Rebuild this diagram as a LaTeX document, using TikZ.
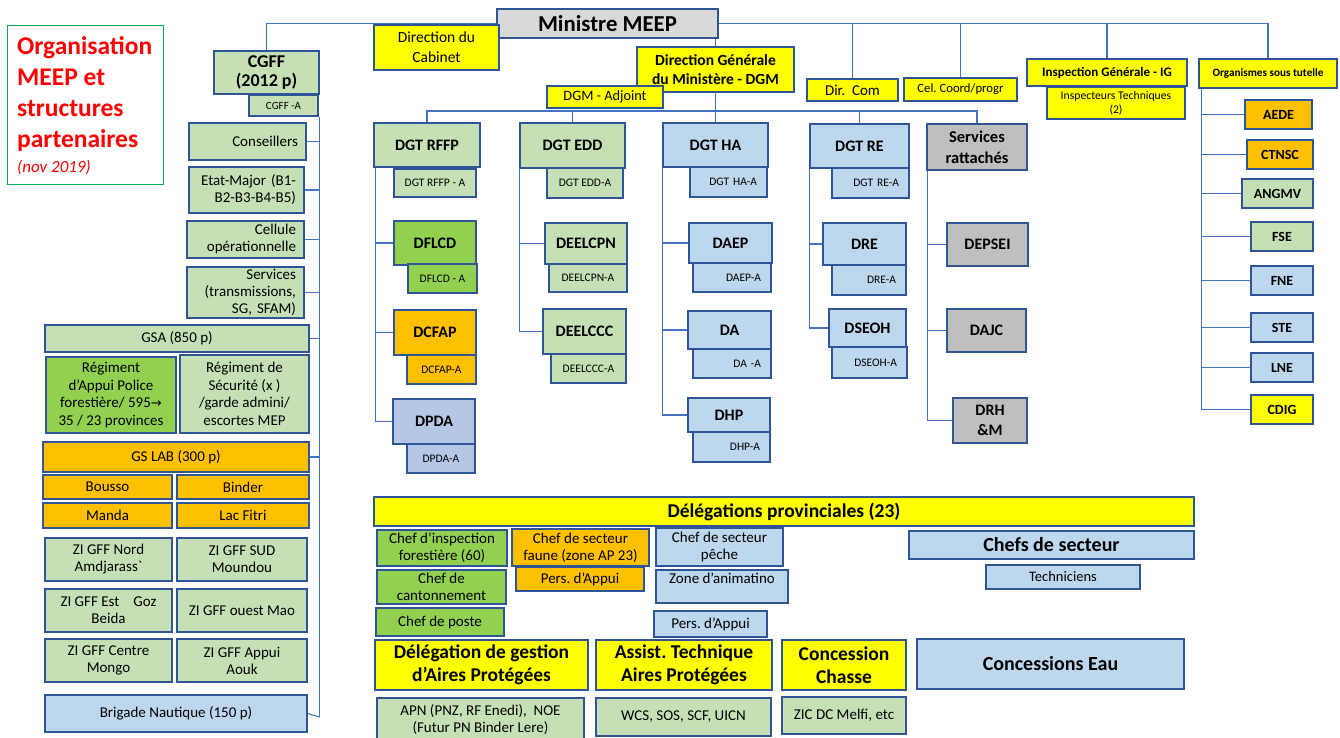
\documentclass[tikz,border=0pt]{standalone}
\usepackage{fontspec}
\setmainfont{Carlito}
\newfontfamily\symfont{DejaVu Sans}

\definecolor{lgreen}{HTML}{C5E0B4}
\definecolor{bgreen}{HTML}{92D050}
\definecolor{orng}{HTML}{FFC000}
\definecolor{yell}{HTML}{FFFF00}
\definecolor{lblue}{HTML}{BDD7EE}
\definecolor{pblue}{HTML}{B4C7E7}
\definecolor{grayA}{HTML}{BFBFBF}
\definecolor{grayB}{HTML}{D9D9D9}
\definecolor{edge}{HTML}{2F5597}
\definecolor{wire}{HTML}{4472C4}
\definecolor{titlegreen}{HTML}{00B050}
\definecolor{titlered}{HTML}{FF0000}

\pgfdeclarelayer{wires}
\pgfsetlayers{wires,main}

\newcommand\fsz[2]{\fontsize{#1}{#2}\selectfont}

% box from (x1,y1) to (x2,y2), y measured downwards
\newcommand\bx[7]{%
  \pgfmathsetmacro\bw{#4-#2}\pgfmathsetmacro\bh{#5-#3}%
  \pgfmathsetmacro\btw{#4-#2-20}\pgfmathsetmacro\bltw{#4-#2-16}%
  \pgfmathsetmacro\bcx{(#2+#4)/2}\pgfmathsetmacro\bcy{(#3+#5)/2}%
  \node[box,minimum width=\bw pt,minimum height=\bh pt,#6] (#1) at (\bcx,\bcy) {#7};}

\tikzset{
  box/.style={draw=edge, line width=1.4pt, inner sep=1pt, align=center,
    text=black, font=\fsz{15}{17}},
  conn/.style={draw=wire, line width=1.1pt},
  hd/.style={font=\bfseries\fsz{16}{18}},
  sub/.style={font=\fsz{11.5}{13}},
  big/.style={font=\bfseries\fsz{19.5}{23}},
  rtext/.style={align=right, text width=\btw pt, inner xsep=10pt},
  ltext/.style={align=right, text width=\bltw pt, inner xsep=8pt},
  flg/.style={fill=lgreen}, fbg/.style={fill=bgreen}, forng/.style={fill=orng},
  fye/.style={fill=yell}, flb/.style={fill=lblue}, fpb/.style={fill=pblue},
  fga/.style={fill=grayA}, fgb/.style={fill=grayB},
}

\begin{document}
\frenchspacing
\begin{tikzpicture}[x=1pt,y=-1pt]
\useasboundingbox (0,0) rectangle (1340,738);

% heading
\node[draw=titlegreen, line width=1pt, minimum width=156pt, minimum height=159pt,
  anchor=north west] (ttl) at (7,25) {};
\node[anchor=north west, inner sep=0pt, align=left, text=titlered,
  font=\bfseries\fsz{25.5}{31}] (ttltext) at (17,36.5)
  {Organisation\\MEEP et\\structures\\partenaires};
\node[anchor=base west, inner sep=0pt, text=titlered,
  font=\itshape\fsz{17}{20}] (ttldate) at (17,172) {(nov 2019)};

% top level
\bx{min}{497}{9}{718}{38}{fgb,font=\bfseries\fsz{22.8}{25}}{Ministre MEEP}
\bx{cab}{374}{25}{499}{70}{fye,font=\fsz{15.5}{20}}{Direction du\\Cabinet}
\bx{dgm}{637}{47}{794}{92}{fye,font=\bfseries\fsz{15.5}{18.5}}{Direction Générale\\du Ministère - DGM}
\bx{dgma}{547}{86}{663}{108}{fye,font=\fsz{14.3}{16}}{DGM - Adjoint}
\bx{dircom}{807}{79}{898}{101}{fye,font=\fsz{15}{17}}{Dir.\ \ Com}
\bx{cel}{904}{78}{1017}{101}{fye,font=\fsz{12.7}{15}}{Cel. Coord/progr}
\bx{ig}{1027}{59}{1187}{86}{fye,font=\bfseries\fsz{13}{15}}{Inspection Générale - IG}
\bx{insp}{1047}{87}{1185}{119}{fye,font=\fsz{11.7}{14}}{Inspecteurs Techniques\\(2)}
\bx{org}{1199}{59}{1337}{88}{fye,font=\bfseries\fsz{11.2}{13}}{Organismes sous tutelle}

% organismes
\tikzset{oh/.style={font=\bfseries\fsz{14}{16}}}
\bx{aede}{1245}{100}{1312}{129}{forng,oh}{AEDE}
\bx{ctnsc}{1247}{140}{1313}{169}{forng,oh}{CTNSC}
\bx{angmv}{1242}{179}{1313}{208}{flg,oh}{ANGMV}
\bx{fse}{1251}{222}{1313}{251}{flg,oh}{FSE}
\bx{fne}{1251}{266}{1313}{295}{flb,oh}{FNE}
\bx{ste}{1251}{313}{1313}{342}{flb,oh}{STE}
\bx{lne}{1251}{353}{1313}{382}{flb,oh}{LNE}
\bx{cdig}{1251}{395}{1313}{424}{fye,oh}{CDIG}

% CGFF column
\bx{cgff}{214}{51}{319}{94}{flg,font=\bfseries\fsz{18}{19.5}}{CGFF\\(2012 p)}
\bx{cgffa}{249}{95}{318}{116}{flg,font=\fsz{11}{12}}{CGFF -A}
\bx{cons}{189}{123}{306}{160}{flg,ltext}{Conseillers}
\bx{etat}{189}{167}{304}{213}{flg,ltext}{Etat-Major~(B1-\\B2-B3-B4-B5)}
\bx{cell}{187}{221}{304}{258}{flg,ltext}{Cellule\\opérationnelle}
\bx{serv}{187}{267}{304}{318}{flg,ltext}{Services\\(transmissions,\\SG,~SFAM)}
\bx{gsa}{45}{325}{309}{352}{flg}{GSA (850 p)}
\bx{rap}{46}{357}{176}{433}{fbg,font=\fsz{15}{17.5}}{Régiment\\d’Appui Police\\forestière/ 595{\symfont\fsz{13}{17.5}→}\\35 / 23 provinces}
\bx{rsec}{180}{355}{309}{433}{flg,font=\fsz{15}{17.5}}{Régiment de\\Sécurité (x )\\/garde admini/\\escortes MEP}
\bx{gslab}{43}{442}{309}{472}{forng}{GS LAB (300 p)}
\bx{bousso}{43}{475}{172}{499}{forng}{Bousso}
\bx{binder}{177}{475}{309}{499}{forng}{Binder}
\bx{manda}{43}{503}{172}{528}{forng}{Manda}
\bx{lacfitri}{177}{503}{309}{528}{forng}{Lac Fitri}
\bx{zinord}{45}{538}{172}{581}{flg}{ZI GFF Nord\\Amdjarass\textasciigrave}
\bx{zisud}{177}{538}{307}{581}{flg}{ZI GFF SUD\\Moundou}
\bx{ziest}{45}{589}{172}{632}{flg}{ZI GFF Est\hspace{14pt}Goz\\Beida}
\bx{zimao}{177}{589}{307}{632}{flg}{ZI GFF ouest Mao}
\bx{zicentre}{45}{639}{172}{682}{flg}{ZI GFF Centre\\Mongo}
\bx{ziaouk}{177}{639}{307}{682}{flg}{ZI GFF Appui\\Aouk}
\bx{brig}{45}{695}{307}{732}{flb}{Brigade Nautique (150 p)}

% DGT RFFP column
\bx{dgtrffp}{374}{123}{480}{167}{flg,hd}{DGT RFFP}
\bx{dgtrffpa}{394}{169}{476}{197}{flg,sub}{DGT RFFP - A}
\bx{dflcd}{394}{221}{476}{265}{fbg,hd}{DFLCD}
\bx{dflcda}{408}{264}{477}{293}{fbg,sub}{DFLCD - A}
\bx{dcfap}{394}{310}{476}{355}{forng,hd}{DCFAP}
\bx{dcfapa}{407}{355}{476}{384}{forng,sub}{DCFAP-A}
\bx{dpda}{393}{399}{475}{444}{fpb,hd}{DPDA}
\bx{dpdaa}{407}{444}{475}{473}{fpb,sub}{DPDA-A}

% DGT EDD column
\bx{dgtedd}{520}{123}{625}{168}{flg,hd}{DGT EDD}
\bx{dgtedda}{547}{168}{623}{198}{flg,sub}{DGT EDD-A}
\bx{deelcpn}{545}{223}{627}{264}{flg,hd}{DEELCPN}
\bx{deelcpna}{549}{264}{627}{292}{flg,sub}{DEELCPN-A}
\bx{deelccc}{543}{309}{626}{354}{flg,hd}{DEELCCC}
\bx{deelccca}{551}{354}{626}{383}{flg,sub}{DEELCCC-A}

% DGT HA column
\bx{dgtha}{663}{123}{768}{167}{flb,hd}{DGT HA}
\bx{dgthaa}{690}{167}{767}{197}{flb,sub,rtext}{DGT HA-A}
\bx{daep}{689}{223}{772}{263}{flb,hd}{DAEP}
\bx{daepa}{693}{263}{771}{292}{flb,sub,rtext}{DAEP-A}
\bx{da}{688}{311}{771}{349}{flb,hd}{DA}
\bx{daa}{693}{349}{771}{378}{flb,sub,rtext}{DA -A}
\bx{dhp}{688}{398}{770}{432}{flb,hd}{DHP}
\bx{dhpa}{693}{432}{770}{462}{flb,sub,rtext}{DHP-A}

% DGT RE column
\bx{dgtre}{810}{124}{909}{168}{flb,hd}{DGT RE}
\bx{dgtrea}{832}{168}{909}{198}{flb,sub,rtext}{DGT RE-A}
\bx{dre}{823}{223}{906}{265}{flb,hd}{DRE}
\bx{drea}{832}{265}{906}{295}{flb,sub,rtext}{DRE-A}
\bx{dseoh}{829}{309}{906}{347}{flb,hd}{DSEOH}
\bx{dseoha}{832}{347}{907}{378}{flb,sub,rtext}{DSEOH-A}

% services rattachés
\bx{sr}{927}{124}{1027}{170}{fga,font=\bfseries\fsz{16.5}{21}}{Services\\rattachés}
\bx{depsei}{947}{223}{1028}{266}{fga,hd}{DEPSEI}
\bx{dajc}{947}{309}{1026}{352}{fga,hd}{DAJC}
\bx{drh}{953}{398}{1027}{443}{fga,font=\bfseries\fsz{16}{20}}{DRH\\\&M}

% provincial level
\bx{dp}{374}{497}{1194}{526}{fye,font=\bfseries\fsz{19.5}{21}}{Délégations provinciales (23)}
\bx{cif}{377}{530}{507}{566}{fbg}{Chef d’inspection\\forestière (60)}
\bx{csf}{512}{529}{649}{566}{forng}{Chef de secteur\\faune (zone AP 23)}
\bx{pao}{516}{567}{644}{591}{forng}{Pers. d’Appui}
\bx{csp}{656}{528}{783}{566}{flb}{Chef de secteur\\pêche}
\bx{zone}{656}{570}{788}{603}{flb}{Zone d’animatino\\\mbox{}}
\bx{ccant}{377}{570}{506}{604}{fbg}{Chef de\\cantonnement}
\bx{cposte}{376}{608}{504}{636}{fbg}{Chef de poste}
\bx{pab}{654}{611}{767}{637}{flb}{Pers. d’Appui}
\bx{cds}{909}{531}{1194}{559}{flb,font=\bfseries\fsz{20}{22}}{Chefs de secteur}
\bx{tech}{986}{565}{1140}{589}{flb,font=\fsz{14.5}{16}}{Techniciens}
\bx{dgap}{375}{640}{588}{690}{fye,big}{Délégation de gestion\\d’Aires Protégées}
\bx{atap}{596}{640}{772}{690}{fye,big}{Assist. Technique\\Aires Protégées}
\bx{cch}{782}{640}{906}{690}{fye,big}{Concession\\Chasse}
\bx{ceau}{917}{639}{1184}{689}{flb,font=\bfseries\fsz{20}{22}}{Concessions Eau}
\bx{apn}{377}{698}{584}{742}{flg}{APN (PNZ, RF Enedi),\ \ NOE\\(Futur PN Binder Lere)}
\bx{wcs}{596}{698}{771}{736}{flg}{WCS, SOS, SCF, UICN}
\bx{zic}{782}{697}{906}{734}{flg}{ZIC DC Melfi, etc}

% connectors
\begin{pgfonlayer}{wires}
  \draw[conn] (min.west) -| (cgff.north);
  \draw[conn] (min.east) -| (org.north);
  \draw[conn] (dircom.north) -- (dircom.north |- min.east);
  \draw[conn] (cel.north) -- (cel.north |- min.east);
  \draw[conn] (ig.north) -- (ig.north |- min.east);
  \draw[conn] (dgm.north |- min.south) -- (dgm.north);
  \draw[conn] (dgm.south) -- (dgtha.north);
  \coordinate (bus) at (0,111);
  \draw[conn] (dgtrffp.north) |- (bus -| sr.north) -- (sr.north);
  \draw[conn] (dgtedd.north) -- (dgtedd.north |- bus);
  \draw[conn] (dgtre.north) -- (dgtre.north |- bus);

  % CGFF column
  \coordinate (lc) at ([xshift=1pt]cgffa.south east);
  \coordinate (lcend) at (lc |- 0,717);
  \draw[conn] (lc) -- (lcend);
  \foreach \n in {cons,etat,cell,serv,gsa,gslab}
    \draw[conn] (\n.east) -- (lc |- \n.east);
  \draw[conn] (brig.east) -- (lcend);

  % DGT columns
  \coordinate (rc) at ([xshift=2pt]dgtrffp.south west);
  \draw[conn] (rc) |- (dpda.west);
  \foreach \n in {dflcd,dcfap} \draw[conn] (\n.west) -- (rc |- \n.west);
  \coordinate (ec) at (dgtedd.south west);
  \draw[conn] (ec) |- (deelccc.west);
  \draw[conn] (deelcpn.west) -- (ec |- deelcpn.west);
  \coordinate (hc) at (dgtha.south west);
  \draw[conn] (hc) |- (dhp.west);
  \foreach \n in {daep,da} \draw[conn] (\n.west) -- (hc |- \n.west);
  \coordinate (rec) at (dgtre.south west);
  \draw[conn] (rec) |- (dseoh.west);
  \draw[conn] (dre.west) -- (rec |- dre.west);
  \coordinate (sc) at ([xshift=1pt]sr.south west);
  \draw[conn] (sc) |- (drh.west);
  \foreach \n in {depsei,dajc} \draw[conn] (\n.west) -- (sc |- \n.west);

  % organismes column
  \coordinate (oc) at ([xshift=3pt]org.south west);
  \draw[conn] (oc) |- (cdig.west);
  \foreach \n in {aede,ctnsc,angmv,fse,fne,ste,lne}
    \draw[conn] (\n.west) -- (oc |- \n.west);
\end{pgfonlayer}
\end{tikzpicture}
\end{document}
